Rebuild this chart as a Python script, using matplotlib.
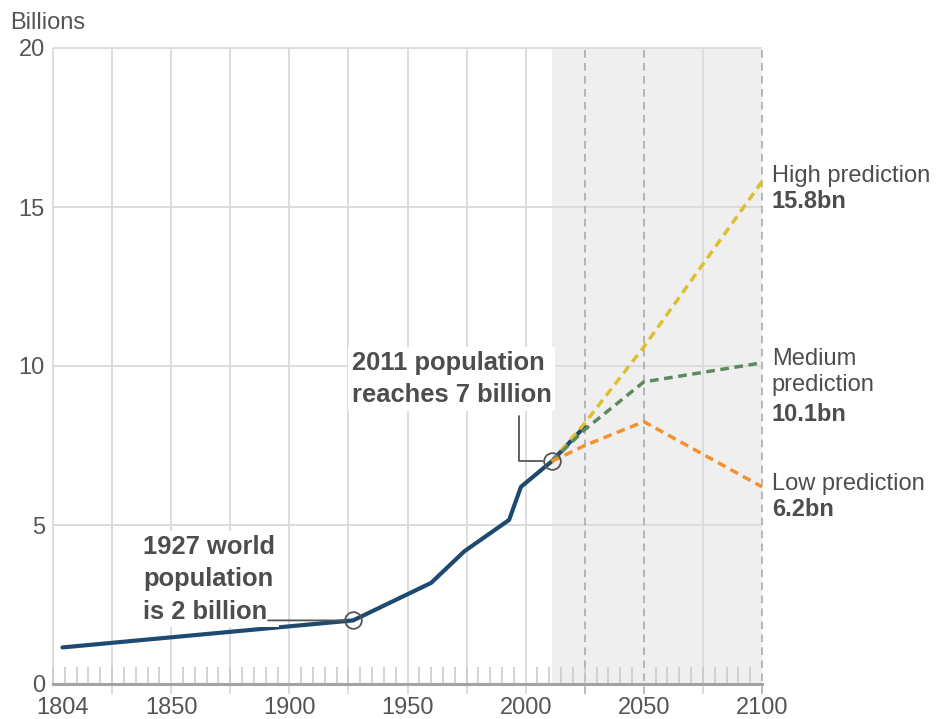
import matplotlib.pyplot as plt
from matplotlib.ticker import MultipleLocator

plt.rcParams['font.family'] = ['Liberation Sans', 'DejaVu Sans']

# world population in billions
hist_years = [1804, 1927, 1960, 1974, 1993, 1998, 2011, 2025]
hist_pop = [1.15, 2.0, 3.18, 4.17, 5.16, 6.2, 7.0, 8.1]

proj_years = [2011, 2025, 2050, 2100]
high_pop = [7.0, 8.2, 10.6, 15.8]
medium_pop = [7.0, 8.0, 9.5, 10.1]
low_pop = [7.0, 7.5, 8.25, 6.2]

milestone_years = [1927, 2011]
milestone_pop = [2.0, 7.0]

x_ticks = [1804, 1850, 1900, 1950, 2000, 2050, 2100]
x_labels = ['1804', '1850', '1900', '1950', '2000', '2050', '2100']
y_ticks = [0, 5, 10, 15, 20]

TEXT = '#4d4d4d'
GRID = '#dadada'
BLUE = '#1f4a70'
YELLOW = '#dcc031'
GREEN = '#5b8a5d'
ORANGE = '#f5912f'
FS = 17
FS_NOTE = 18.4

fig = plt.figure(figsize=(9.36, 7.19), dpi=100)
ax = fig.add_axes([53 / 936, 35 / 719, 709 / 936, 636 / 719])
ax.set_xlim(1800, 2100)
ax.set_ylim(0, 20)

for side in ['top', 'left', 'right']:
    ax.spines[side].set_visible(False)
ax.spines['bottom'].set_color('#a3a3a3')
ax.spines['bottom'].set_linewidth(2.2)
ax.spines['bottom'].set_zorder(3)

# projection period
ax.axvspan(2011, 2100, color='#efefef', lw=0, zorder=0)

# grid
for yv in y_ticks[1:]:
    ax.hlines(yv, 1800, 2100, color=GRID, lw=1.3, zorder=1, clip_on=False)
for xv in range(1800, 2101, 25):
    low_end = 0 if xv == 1800 else -0.3
    if xv in (2025, 2050, 2100):
        ax.vlines(xv, low_end, 20, color='#a5a5a5', lw=1.1,
                  linestyles=(0, (5, 3.5)), zorder=1, clip_on=False)
    else:
        ax.vlines(xv, low_end, 20, color=GRID, lw=1.3, zorder=1, clip_on=False)

# history and projections
ax.plot(hist_years, hist_pop, color=BLUE, lw=3, solid_capstyle='round',
        solid_joinstyle='round', zorder=3)
dash = (0, (2.5, 1.6))
ax.plot(proj_years, high_pop, color=YELLOW, lw=2.5, ls=dash, zorder=4, clip_on=False)
ax.plot(proj_years, medium_pop, color=GREEN, lw=2.5, ls=dash, zorder=4, clip_on=False)
ax.plot(proj_years, low_pop, color=ORANGE, lw=2.5, ls=dash, zorder=4, clip_on=False)

ax.plot(milestone_years, milestone_pop, 'o', ms=12, mfc='none', mec='#555555',
        mew=1.3, zorder=6)

# annotations
box = dict(boxstyle='square,pad=0.15', fc='white', ec='none')
ax.text(1838.1, 4.69, '1927 world\npopulation\nis 2 billion', fontsize=FS_NOTE,
        fontweight='bold', color=TEXT, va='top', ha='left', linespacing=1.44,
        bbox=box, zorder=5)
ax.annotate('', xy=(milestone_years[0], milestone_pop[0]), xytext=(1891, milestone_pop[0]),
            arrowprops=dict(arrowstyle='-', color='#555555', lw=1.3, shrinkA=0, shrinkB=6),
            zorder=6)

ax.text(1926.4, 10.47, '2011 population\nreaches 7 billion', fontsize=FS_NOTE,
        fontweight='bold', color=TEXT, va='top', ha='left', linespacing=1.44,
        bbox=box, zorder=5)
ax.annotate('', xy=(milestone_years[1], milestone_pop[1]), xytext=(1997.2, 8.43),
            arrowprops=dict(arrowstyle='-', color='#555555', lw=1.3, shrinkA=0, shrinkB=6,
                            connectionstyle='angle,angleA=-90,angleB=180,rad=0'),
            zorder=6)

# end labels
lx = 2104.1
ax.text(lx, 16.32, 'High prediction', fontsize=FS, color=TEXT, va='top', clip_on=False)
ax.text(lx, 15.53, f'{high_pop[-1]:.1f}bn', fontsize=FS, fontweight='bold', color=TEXT,
        va='top', clip_on=False)
ax.text(lx, 10.56, 'Medium', fontsize=FS, color=TEXT, va='top', clip_on=False)
ax.text(lx, 9.75, 'prediction', fontsize=FS, color=TEXT, va='top', clip_on=False)
ax.text(lx, 8.85, f'{medium_pop[-1]:.1f}bn', fontsize=FS, fontweight='bold', color=TEXT,
        va='top', clip_on=False)
ax.text(lx, 6.63, 'Low prediction', fontsize=FS, color=TEXT, va='top', clip_on=False)
ax.text(lx, 5.84, f'{low_pop[-1]:.1f}bn', fontsize=FS, fontweight='bold', color=TEXT,
        va='top', clip_on=False)

# axes ticks
ax.set_xticks(x_ticks)
ax.set_xticklabels(x_labels)
ax.xaxis.set_minor_locator(MultipleLocator(5))
ax.tick_params(axis='x', which='major', length=0, pad=9.5, labelsize=FS, labelcolor='#555555')
ax.tick_params(axis='x', which='minor', direction='in', length=12, width=1.1, color='#c8c8c8')
ax.set_yticks(y_ticks)
ax.tick_params(axis='y', length=0, pad=5.8, labelsize=FS, labelcolor='#555555')

fig.text(10 / 936, 1 - 12 / 719, 'Billions', fontsize=FS, color='#555555', va='top', ha='left')

fig.savefig('out.png', dpi=100)
